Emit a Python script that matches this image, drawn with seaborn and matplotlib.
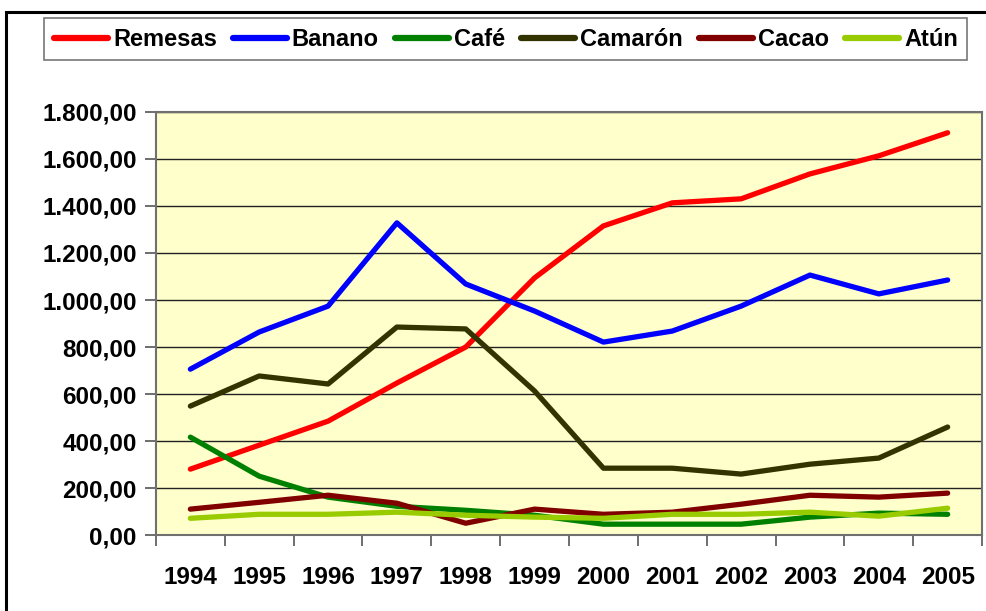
import numpy as np
import pandas as pd
import seaborn as sns
import matplotlib
matplotlib.use("Agg")
import matplotlib.pyplot as plt
from matplotlib.ticker import FuncFormatter, FixedLocator
from matplotlib.patches import Rectangle

years = [1994, 1995, 1996, 1997, 1998, 1999, 2000, 2001, 2002, 2003, 2004, 2005]
remesas = [281, 383, 485, 647, 800, 1094, 1315, 1413, 1430, 1536, 1613, 1711]
banano = [706, 864, 974, 1328, 1068, 953, 821, 868, 974, 1106, 1026, 1085]
cafe = [417, 251, 162, 123, 106, 85, 47, 47, 47, 77, 94, 89]
camaron = [549, 677, 643, 885, 877, 613, 285, 285, 260, 302, 328, 460]
cacao = [111, 140, 170, 136, 51, 111, 89, 98, 132, 170, 162, 179]
atun = [72, 89, 89, 98, 85, 77, 72, 89, 89, 98, 81, 115]

series_names = ["Remesas", "Banano", "Café", "Camarón", "Cacao", "Atún"]
series_values = [remesas, banano, cafe, camaron, cacao, atun]
colors = ["#FF0000", "#0000FF", "#008000", "#333300", "#800000", "#99CC00"]
yticks = [0, 200, 400, 600, 800, 1000, 1200, 1400, 1600, 1800]

rows = []
for name, vals in zip(series_names, series_values):
    for y, v in zip(years, vals):
        rows.append({"Año": y, "Valor": v, "Serie": name})
df = pd.DataFrame(rows)

sns.set_theme(style="white")
plt.rcParams['font.family'] = ['Liberation Sans', 'DejaVu Sans']

fig = plt.figure(figsize=(9.87, 6.11), dpi=100)
# outer frame
fig.patches.append(Rectangle((0.006, -0.01), 1.2, 0.99, transform=fig.transFigure,
                             fill=False, edgecolor="black", linewidth=2.2, zorder=0))

ax = fig.add_axes([0.158, 0.124, 0.837, 0.693])
ax.set_facecolor("#FFFFCC")

sns.lineplot(data=df, x="Año", y="Valor", hue="Serie", hue_order=series_names,
             palette=colors, linewidth=3.8, ax=ax, legend=False, zorder=3)

ax.set_xlim(1993.5, 2005.5)
ax.set_ylim(0, 1800)
ax.yaxis.set_major_locator(FixedLocator(yticks))

def fmt(v, pos):
    s = f"{v:,.2f}"
    return s.replace(",", "X").replace(".", ",").replace("X", ".")
ax.yaxis.set_major_formatter(FuncFormatter(fmt))

ax.set_xticks(years)
ax.set_xticklabels([str(y) for y in years])
ax.set_xticks([1993.5 + k for k in range(13)], minor=True)
ax.tick_params(axis="x", which="major", length=0, pad=22, labelsize=17.5, labelcolor="black")
ax.tick_params(axis="x", which="minor", length=8, width=1.2, color="#555555", direction="out", bottom=True)
ax.tick_params(axis="y", which="major", length=8, width=1.2, color="#555555", direction="out", left=True, pad=6,
               labelsize=17.5, labelcolor="black")
for lab in ax.get_xticklabels() + ax.get_yticklabels():
    lab.set_fontweight("bold")

ax.grid(axis="y", color="#222222", linewidth=1.0, zorder=1)
ax.grid(axis="x", visible=False)
ax.set_axisbelow(True)
for side in ["left", "bottom", "right", "top"]:
    ax.spines[side].set_visible(True)
    ax.spines[side].set_color("#707070")
    ax.spines[side].set_linewidth(1.5)
ax.set_xlabel("")
ax.set_ylabel("")

handles = [plt.Line2D([0], [0], color=c, linewidth=4.5, solid_capstyle="round") for c in colors]
leg = fig.legend(handles, series_names, loc="upper left", bbox_to_anchor=(0.045, 0.895, 0.935, 0.075),
                 mode="expand", ncol=6, frameon=True, fancybox=False, borderaxespad=0,
                 handlelength=2.3, handletextpad=0.2, columnspacing=0.6,
                 prop={"weight": "bold", "size": 17})
for t in leg.get_texts():
    t.set_color("black")
leg.get_frame().set_edgecolor("#555555")
leg.get_frame().set_linewidth(1.2)

fig.savefig("out.png", dpi=100)
